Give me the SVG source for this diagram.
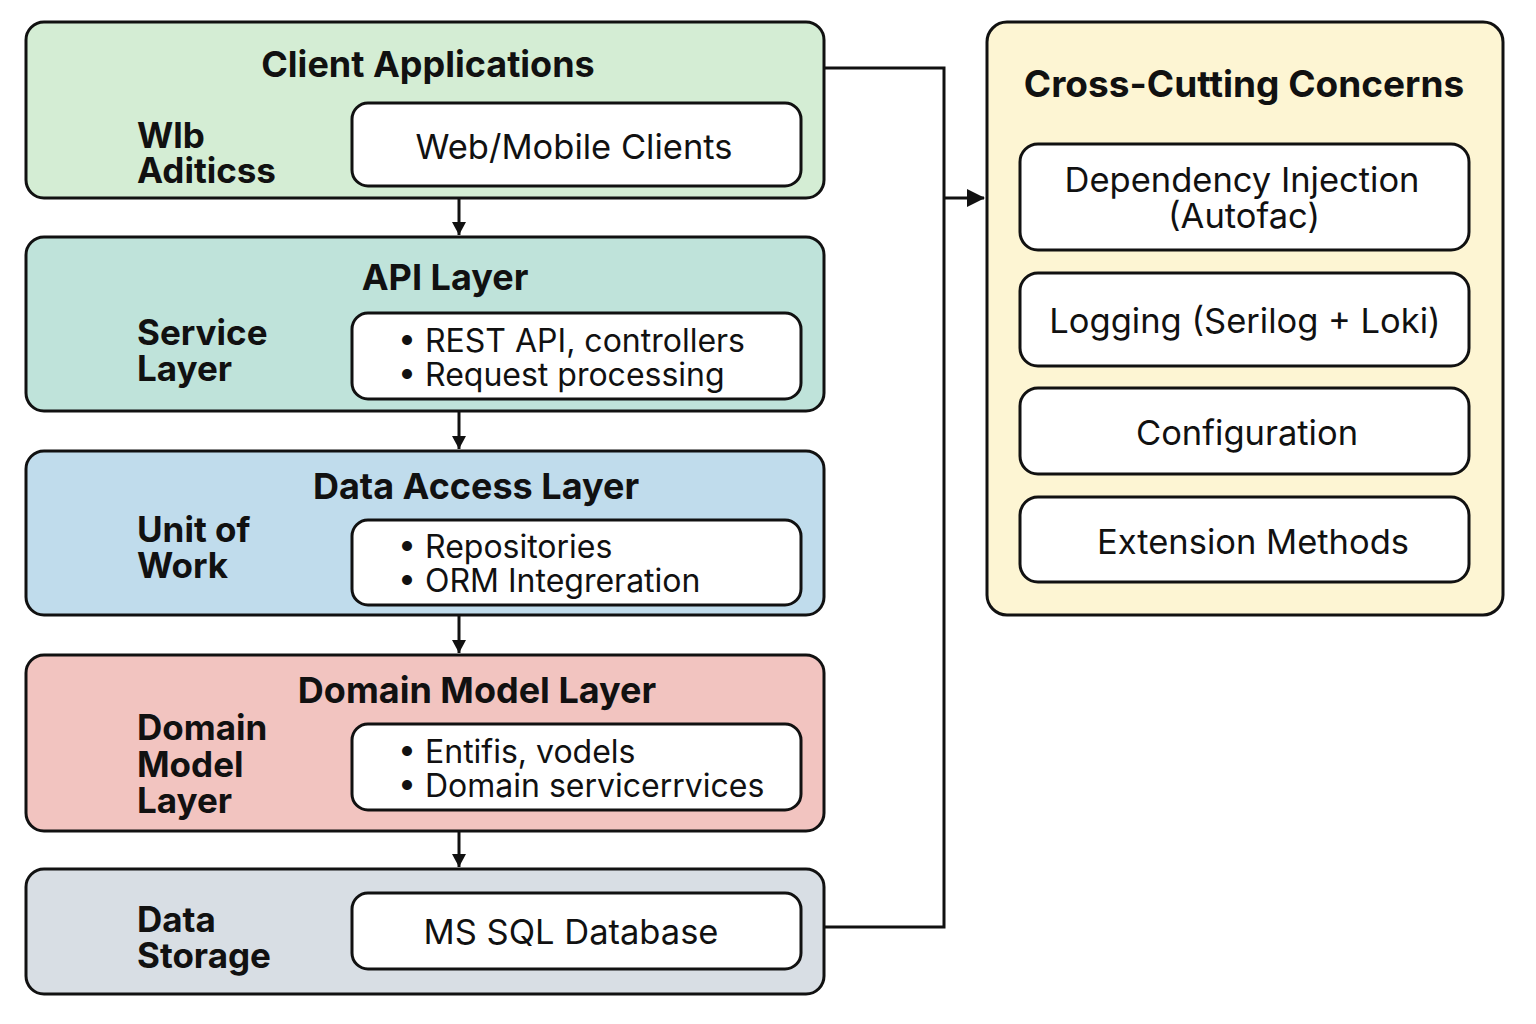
<svg xmlns="http://www.w3.org/2000/svg" width="1536" height="1024" viewBox="0 0 1536 1024">
<defs>
<marker id="ah" markerWidth="16" markerHeight="14" refX="13" refY="7" orient="auto" markerUnits="userSpaceOnUse" viewBox="0 0 14 14">
<path d="M0,0 L13,7 L0,14 z" fill="#111"/>
</marker>
<marker id="ahb" markerWidth="18" markerHeight="18" refX="17" refY="9" orient="auto" markerUnits="userSpaceOnUse" viewBox="0 0 18 18">
<path d="M0,0 L18,9 L0,18 z" fill="#111"/>
</marker>
</defs>
<style>
.layer{stroke:#111;stroke-width:3}
.inner{fill:#fff;stroke:#111;stroke-width:3}
.title{font-family:Inter,"Liberation Sans",sans-serif;font-weight:700;font-size:36px;fill:#111;text-anchor:middle}
.side{font-family:Inter,"Liberation Sans",sans-serif;font-weight:700;font-size:35px;fill:#111}
.txt{font-family:Inter,"Liberation Sans",sans-serif;font-size:32px;fill:#111}
.big{font-size:34.5px}
.mid{text-anchor:middle}
.conn{fill:none;stroke:#111;stroke-width:3}
</style>
<rect width="1536" height="1024" fill="#fff"/>

<g id="client">
<rect class="layer" x="26" y="22" width="798" height="176" rx="18" fill="#d4edd4"/>
<text class="title" x="428" y="77">Client Applications</text>
<text class="side" x="137" y="148">Wlb</text>
<text class="side" x="137" y="183">Aditicss</text>
<rect class="inner" x="352" y="103" width="449" height="83" rx="16"/>
<text class="txt big mid" x="574" y="159">Web/Mobile Clients</text>
</g>

<g id="api">
<rect class="layer" x="26" y="237" width="798" height="174" rx="18" fill="#bfe3da"/>
<text class="title" x="445" y="290">API Layer</text>
<text class="side" x="137" y="345">Service</text>
<text class="side" x="137" y="381">Layer</text>
<rect class="inner" x="352" y="313" width="449" height="86" rx="16"/>
<text class="txt" x="398" y="352">• REST API, controllers</text>
<text class="txt" x="398" y="386">• Request processing</text>
</g>

<g id="dal">
<rect class="layer" x="26" y="451" width="798" height="164" rx="18" fill="#c0dcec"/>
<text class="title" x="476" y="499">Data Access Layer</text>
<text class="side" x="137" y="542">Unit of</text>
<text class="side" x="137" y="578">Work</text>
<rect class="inner" x="352" y="520" width="449" height="85" rx="16"/>
<text class="txt" x="398" y="558">• Repositories</text>
<text class="txt" x="398" y="592">• ORM Integreration</text>
</g>

<g id="domain">
<rect class="layer" x="26" y="655" width="798" height="176" rx="18" fill="#f2c4c0"/>
<text class="title" x="477" y="703">Domain Model Layer</text>
<text class="side" x="137" y="740">Domain</text>
<text class="side" x="137" y="777">Model</text>
<text class="side" x="137" y="813">Layer</text>
<rect class="inner" x="352" y="724" width="449" height="86" rx="16"/>
<text class="txt" x="398" y="763">• Entifis, vodels</text>
<text class="txt" x="398" y="797">• Domain servicerrvices</text>
</g>

<g id="storage">
<rect class="layer" x="26" y="869" width="798" height="125" rx="18" fill="#d8dee4"/>
<text class="side" x="137" y="932">Data</text>
<text class="side" x="137" y="968">Storage</text>
<rect class="inner" x="352" y="893" width="449" height="76" rx="16"/>
<text class="txt big mid" x="571" y="944">MS SQL Database</text>
</g>

<g id="crosscutting">
<rect class="layer" x="987" y="22" width="516" height="593" rx="20" fill="#fdf5d3"/>
<text class="title" x="1244" y="97" style="font-size:37px">Cross-Cutting Concerns</text>
<rect class="inner" x="1020" y="144" width="449" height="106" rx="18"/>
<text class="txt big mid" x="1242" y="192">Dependency Injection</text>
<text class="txt big mid" x="1244" y="228">(Autofac)</text>
<rect class="inner" x="1020" y="273" width="449" height="93" rx="18"/>
<text class="txt big mid" x="1245" y="333">Logging (Serilog + Loki)</text>
<rect class="inner" x="1020" y="388" width="449" height="86" rx="18"/>
<text class="txt big mid" x="1247" y="445">Configuration</text>
<rect class="inner" x="1020" y="497" width="449" height="85" rx="18"/>
<text class="txt big mid" x="1253" y="554">Extension Methods</text>
</g>

<g id="connectors">
<line class="conn" x1="459" y1="198" x2="459" y2="235" marker-end="url(#ah)"/>
<line class="conn" x1="459" y1="411" x2="459" y2="449" marker-end="url(#ah)"/>
<line class="conn" x1="459" y1="615" x2="459" y2="653" marker-end="url(#ah)"/>
<line class="conn" x1="459" y1="831" x2="459" y2="867" marker-end="url(#ah)"/>
<polyline class="conn" points="824,68 944,68 944,927 824,927"/>
<line class="conn" x1="944" y1="198" x2="984" y2="198" marker-end="url(#ahb)"/>
</g>
</svg>
